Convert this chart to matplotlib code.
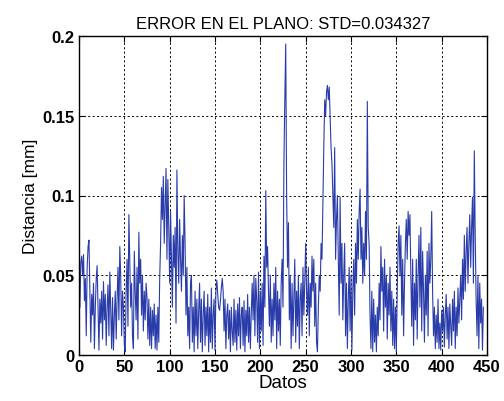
import matplotlib
matplotlib.use("Agg")
import matplotlib.pyplot as plt
import numpy as np

plt.rcParams['font.family'] = ['Liberation Sans', 'DejaVu Sans']

distancia = [
    .030, .058, .062, .050, .063, .034, .048, .012, .055, .068,
    .072, .040, .008, .038, .025, .045, .004, .030, .048, .056,
    .030, .003, .035, .020, .040, .010, .046, .022, .038, .006,
    .030, .044, .012, .052, .028, .004, .036, .003, .025, .040,
    .010, .035, .055, .022, .068, .050, .012, .040, .030, .006,
    .002, .040, .060, .018, .088, .060, .030, .045, .012, .004,
    .065, .040, .022, .055, .010, .077, .045, .060, .025, .050,
    .015, .040, .022, .045, .036, .010, .035, .006, .030, .004,
    .028, .012, .032, .004, .025, .003, .030, .008, .048, .070,
    .105, .085, .112, .070, .095, .117, .060, .110, .080, .045,
    .090, .060, .030, .075, .055, .080, .020, .116, .065, .045,
    .085, .060, .040, .075, .050, .100, .070, .025, .055, .012,
    .030, .004, .045, .050, .008, .030, .002, .040, .012, .035,
    .004, .028, .045, .008, .035, .002, .025, .040, .006, .030,
    .012, .038, .002, .030, .008, .042, .004, .025, .035, .003,
    .040, .047, .038, .030, .028, .034, .042, .048, .040, .015,
    .035, .004, .025, .032, .010, .028, .002, .030, .015, .006,
    .035, .008, .028, .003, .032, .012, .036, .004, .025, .030,
    .006, .034, .002, .028, .012, .038, .008, .030, .004, .026,
    .045, .022, .050, .012, .048, .035, .008, .052, .004, .040,
    .015, .045, .006, .062, .030, .103, .055, .068, .040, .018,
    .050, .008, .035, .012, .045, .022, .055, .004, .040, .015,
    .035, .006, .045, .060, .030, .120, .160, .195, .100, .055,
    .083, .022, .050, .004, .045, .012, .035, .060, .008, .040,
    .018, .050, .004, .035, .045, .012, .055, .025, .045, .070,
    .040, .025, .055, .012, .045, .030, .062, .040, .060, .018,
    .045, .008, .002, .030, .050, .040, .070, .060, .097, .130,
    .160, .150, .165, .169, .160, .168, .150, .130, .120, .100,
    .080, .130, .060, .085, .100, .060, .025, .099, .045, .070,
    .022, .050, .070, .012, .045, .004, .035, .055, .015, .050,
    .003, .040, .060, .025, .070, .045, .085, .060, .090, .104,
    .060, .080, .045, .070, .050, .090, .060, .159, .080, .070,
    .025, .004, .040, .002, .035, .008, .025, .002, .030, .012,
    .045, .022, .068, .040, .055, .015, .060, .030, .050, .010,
    .045, .025, .055, .015, .040, .006, .035, .004, .030, .002,
    .040, .070, .081, .050, .075, .025, .060, .012, .045, .070,
    .085, .060, .090, .075, .088, .050, .018, .060, .006, .045,
    .022, .060, .010, .050, .075, .030, .080, .015, .065, .040,
    .008, .050, .025, .065, .012, .070, .045, .060, .090, .040,
    .012, .030, .004, .025, .008, .035, .004, .020, .003, .028,
    .015, .030, .005, .025, .038, .010, .030, .004, .032, .018,
    .006, .035, .015, .040, .004, .030, .012, .042, .020, .035,
    .050, .022, .060, .035, .075, .040, .065, .080, .045, .070,
    .088, .055, .080, .099, .045, .128, .075, .035, .012, .050,
    .004, .045, .020, .035, .003, .030,
]
x_ticks = [0, 50, 100, 150, 200, 250, 300, 350, 400, 450]
y_ticks = [0, 0.05, 0.1, 0.15, 0.2]
y_ticklabels = ["0", "0.05", "0.1", "0.15", "0.2"]

fig = plt.figure(figsize=(5.04, 4.02), dpi=100)
ax = fig.add_axes([79/504, 1-356/402, (487-79)/504, (356-37)/402])
ax.plot(np.arange(1, len(distancia)+1), distancia, color='#2a3caa', linewidth=0.8)
ax.set_xlim(0, 450)
ax.set_ylim(0, 0.2)
ax.set_xticks(x_ticks)
ax.set_yticks(y_ticks)
ax.set_yticklabels(y_ticklabels)
ax.grid(True, linestyle=(0, (2, 2.5)), color='black', linewidth=0.7)
ax.tick_params(direction='in', top=True, right=True, length=4, width=0.8, labelsize=12, pad=3)
for lab in ax.get_xticklabels() + ax.get_yticklabels():
    lab.set_fontweight('bold')
for s in ax.spines.values():
    s.set_linewidth(1.0)
ax.set_title("ERROR EN EL PLANO: STD=0.034327", fontsize=12, pad=6)
ax.set_xlabel("Datos", fontsize=13.5, labelpad=0)
ax.set_ylabel("Distancia [mm]", fontsize=12.5, labelpad=3)
fig.savefig("out.png", dpi=100)
